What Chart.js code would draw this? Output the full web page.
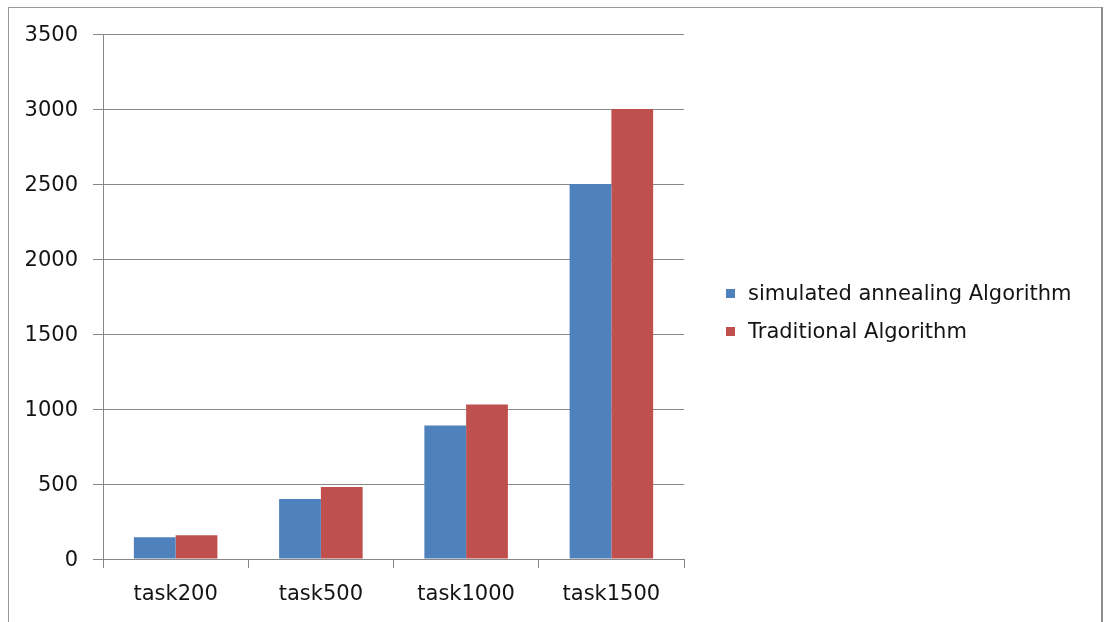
<!DOCTYPE html>
<html>
<head>
<meta charset="utf-8">
<script src="https://cdn.jsdelivr.net/npm/chart.js@4.4.1/dist/chart.umd.min.js"></script>
<style>
  html, body { margin: 0; padding: 0; background: #fff; overflow: hidden; }
  #frame {
    position: absolute; left: 8px; top: 7px; width: 1095px; height: 660px;
    border: 1px solid #9a9a9a; border-right: 2px solid #8e8e8e; box-sizing: border-box;
  }
  #wrap { position: absolute; left: 0; top: 0; width: 1107px; height: 622px; }
  #legend {
    position: absolute; left: 726px; top: 274px;
    font-family: "DejaVu Sans", sans-serif; font-size: 21px; color: #141414;
  }
  #legend .row { display: flex; align-items: center; height: 38px; }
  #legend .sw { width: 9px; height: 9px; margin-right: 13px; }
</style>
</head>
<body>
<div id="frame"></div>
<div id="wrap"><canvas id="c" width="1107" height="622"></canvas></div>
<div id="legend"></div>
<script>
const categories = ["task200", "task500", "task1000", "task1500"];
const annealingValues = [145, 400, 890, 2500];
const traditionalValues = [158, 480, 1030, 3000];
const seriesNames = ["simulated annealing Algorithm", "Traditional Algorithm"];
const seriesColors = ["#4F81BD", "#C0504D"];
const yTicks = [0, 500, 1000, 1500, 2000, 2500, 3000, 3500];

const font = { family: "DejaVu Sans", size: 21 };
const gridColor = "#878787";
const textColor = "#141414";

const chart = new Chart(document.getElementById("c"), {
  type: "bar",
  data: {
    labels: categories,
    datasets: [
      { label: seriesNames[0], data: annealingValues, backgroundColor: seriesColors[0] },
      { label: seriesNames[1], data: traditionalValues, backgroundColor: seriesColors[1] }
    ]
  },
  options: {
    responsive: false,
    animation: false,
    events: [],
    layout: { padding: { left: 0, top: 34, right: 1107 - 684, bottom: 0 } },
    datasets: { bar: { categoryPercentage: 0.575, barPercentage: 1.0, borderWidth: 0 } },
    plugins: { legend: { display: false }, tooltip: { enabled: false } },
    scales: {
      x: {
        grid: { display: true, drawOnChartArea: false, drawTicks: true, tickLength: 9, color: gridColor, offset: true },
        border: { color: gridColor, width: 1 },
        ticks: { font: font, color: textColor, padding: 14, maxRotation: 0 },
        afterFit: s => { s.height = 622 - 559; }
      },
      y: {
        min: 0, max: 3500,
        afterBuildTicks: s => { s.ticks = yTicks.map(v => ({ value: v })); },
        grid: { color: gridColor, tickLength: 10, drawTicks: true },
        border: { color: gridColor, width: 1 },
        ticks: { font: font, color: textColor, padding: 15, labelOffset: 2, callback: v => String(v) },
        afterFit: s => { s.width = 103; }
      }
    }
  }
});

// legend rows built from the dataset names and colours
const legend = document.getElementById("legend");
chart.data.datasets.forEach(ds => {
  const row = document.createElement("div");
  row.className = "row";
  const sw = document.createElement("span");
  sw.className = "sw";
  sw.style.background = ds.backgroundColor;
  const txt = document.createElement("span");
  txt.textContent = ds.label;
  row.appendChild(sw);
  row.appendChild(txt);
  legend.appendChild(row);
});
</script>
</body>
</html>
